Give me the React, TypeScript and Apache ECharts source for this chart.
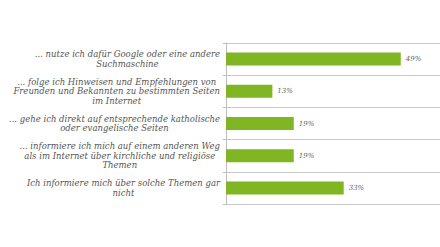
import React, { useEffect, useRef } from "react";
import * as echarts from "echarts";

const categories: string[][] = [
  ["... nutze ich dafür Google oder eine andere", "Suchmaschine"],
  ["... folge ich Hinweisen und Empfehlungen von", "Freunden und Bekannten zu bestimmten Seiten", "im Internet"],
  ["... gehe ich direkt auf entsprechende katholische", "oder evangelische Seiten"],
  ["... informiere ich mich auf einem anderen Weg", "als im Internet über kirchliche und religiöse", "Themen"],
  ["Ich informiere mich über solche Themen gar", "nicht"],
];
const values: number[] = [49, 13, 19, 19, 33];
const xMax = 60;

export default function App() {
  const ref = useRef<HTMLDivElement>(null);
  useEffect(() => {
    if (!ref.current) return;
    const chart = echarts.init(ref.current, undefined, { renderer: "svg" });
    const font = "'DejaVu Serif'";
    chart.setOption({
      animation: false,
      grid: { left: 226, top: 43, bottom: 43, width: 215 },
      xAxis: { type: "value", min: 0, max: xMax, show: false },
      yAxis: {
        type: "category",
        inverse: true,
        data: categories.map((c) => c.join("\n")),
        axisLine: { show: true, lineStyle: { color: "#bdbdbd", width: 1 } },
        axisTick: { show: true, length: 3, lineStyle: { color: "#bdbdbd" } },
        splitLine: { show: true, lineStyle: { color: "#c8c8c8", width: 1 } },
        axisLabel: {
          margin: 6,
          align: "right",
          formatter: (v: string) => v.split("\n").map((l) => `{c|${l}}`).join("\n"),
          rich: {
            c: {
              align: "center",
              fontFamily: font,
              fontStyle: "italic",
              fontSize: 8.5,
              lineHeight: 9.7,
              color: "#555555",
            },
          },
        },
      },
      series: [
        {
          type: "bar",
          data: values,
          barWidth: 13,
          itemStyle: { color: "#80b523" },
          label: {
            show: true,
            position: "right",
            distance: 5,
            formatter: "{c}%",
            fontFamily: font,
            fontStyle: "italic",
            fontSize: 7,
            color: "#666666",
          },
        },
      ],
    });
    return () => chart.dispose();
  }, []);
  return <div ref={ref} style={{ width: 440, height: 247, position: "absolute", left: 0, top: 0, background: "#fff" }} />;
}
